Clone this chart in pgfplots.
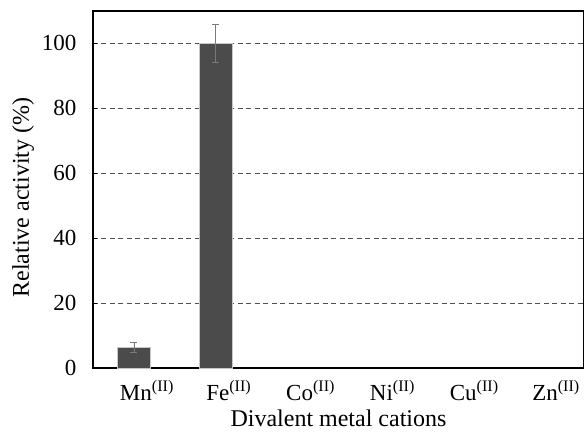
\documentclass[border=0pt]{standalone}
\usepackage{pgfplots}
\pgfplotsset{compat=1.18}
\usepackage{fontspec}
\setmainfont{Liberation Serif}
\definecolor{barc}{HTML}{4B4B4B}
\definecolor{gridc}{HTML}{505050}
\definecolor{errc}{HTML}{7A7A7A}
\begin{document}
\begin{tikzpicture}
\begin{axis}[
  scale only axis, width=491bp, height=357bp,
  xmin=-0.5, xmax=5.5, ymin=0, ymax=110,
  xtick={0,1,2,3,4,5},
  xticklabels={Mn\textsuperscript{(II)},Fe\textsuperscript{(II)},Co\textsuperscript{(II)},Ni\textsuperscript{(II)},Cu\textsuperscript{(II)},Zn\textsuperscript{(II)}},
  ytick={0,20,40,60,80,100},
  ytick pos=left,
  xtick style={draw=none},
  ytick style={black, line width=0.8bp},
  tick align=inside, major tick length=4bp,
  ymajorgrids, grid style={gridc, dash pattern=on 5bp off 3.5bp, line width=0.9bp},
  axis line style={black, line width=1.4bp},
  /pgf/number format/assume math mode=true,
  every tick label/.append style={font=\fontsize{23bp}{27bp}\selectfont},
  xticklabel style={xshift=13bp, yshift=-9bp},
  yticklabel style={xshift=-13bp},
  every axis label/.append style={font=\fontsize{24bp}{28bp}\selectfont},
  xlabel={Divalent metal cations},
  ylabel={Relative activity (\%)},
  xlabel style={yshift=-2bp},
  ylabel style={yshift=1bp, xshift=-8bp},
]
\coordinate (bl) at (rel axis cs:0,0);
\coordinate (tr) at (rel axis cs:1,1);
\addplot[ybar, bar width=0.4, fill=barc, draw=gray!45, line width=0.6bp,
  error bars/.cd, y dir=both, y explicit,
  error bar style={errc, line width=0.8bp},
  error mark options={errc, rotate=90, mark size=3.5bp, line width=0.8bp}]
  table[x=x, y=y, y error=e] {
x y e
0 6.4 1.5
1 100 5.9
};
\end{axis}
\pgfresetboundingbox
\path ([xshift=-93bp,yshift=-69bp]bl) rectangle ([yshift=11bp]tr);
\end{tikzpicture}
\end{document}
